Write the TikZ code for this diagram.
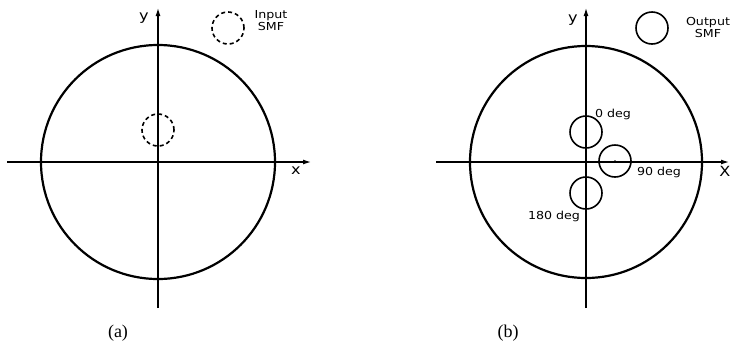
\documentclass[tikz,border=0pt]{standalone}
\usepackage{fontspec}
\usetikzlibrary{arrows.meta}
\newfontfamily\pixfont[FakeStretch=1.15]{DejaVu Sans}
\newfontfamily\capfont{Liberation Serif}

\begin{document}
\begin{tikzpicture}[x=1pt,y=-1pt,>={Latex[length=8pt,width=5pt]},
  fibre/.style={circle,draw,line width=1.6pt,minimum size=32pt,inner sep=0pt},
  dashfibre/.style={fibre,dash pattern=on 4pt off 3pt},
  cladding/.style={line width=2.2pt},
  axis/.style={->,line width=1.2pt},
  lbl/.style={font=\pixfont\fontsize{11}{12}\selectfont,inner sep=0pt,align=center},
  axlbl/.style={font=\pixfont\fontsize{14}{14}\selectfont,inner sep=0pt},
  panelcap/.style={font=\capfont\fontsize{18}{18}\selectfont,inner sep=0pt}]
\useasboundingbox (0,0) rectangle (731,346);

% Panel (a): fibre end with input SMF
\coordinate (ao) at (158,162);
\draw[cladding] (ao) circle[radius=117pt];
\coordinate (axl) at (7,162);
\coordinate (axr) at (311,162);
\coordinate (ayb) at (158,308);
\coordinate (ayt) at (158,8);
\draw[axis] (axl) -- (axr);
\draw[axis] (ayb) -- (ayt);
\node[axlbl] (ay) at (144,18) {y};
\node[axlbl] (ax) at (296,171) {x};
\node[dashfibre] (acore) at (158,130) {};
\node[dashfibre] (insmf) at (228,28) {};
\node[lbl] (inlbl) at (271,21) {Input\\SMF};
\node[panelcap] (capa) at (118,333) {(a)};

% Panel (b): fibre end with output SMF positions
\coordinate (bo) at (586,162);
\draw[cladding] (bo) circle[radius=116pt];
\coordinate (bxl) at (436,162);
\coordinate (bxr) at (729,162);
\coordinate (byb) at (586,308);
\coordinate (byt) at (586,8);
\draw[axis] (bxl) -- (bxr);
\draw[axis] (byb) -- (byt);
\node[axlbl] (by) at (573,20) {y};
\node[axlbl] (bx) at (725,171) {X};
\node[fibre] (deg0) at (586,132) {};
\node[fibre] (deg90) at (615,161) {};
\fill (deg90.center) circle[radius=0.9pt];
\node[fibre] (deg180) at (586,193) {};
\node[lbl] (l0) at (613,114) {0 deg};
\node[lbl] (l90) at (659,172) {90 deg};
\node[lbl] (l180) at (554,216) {180 deg};
\node[fibre] (outsmf) at (652,28) {};
\node[lbl] (outlbl) at (708,27) {Output\\SMF};
\node[panelcap] (capb) at (508,333) {(b)};

\end{tikzpicture}
\end{document}
